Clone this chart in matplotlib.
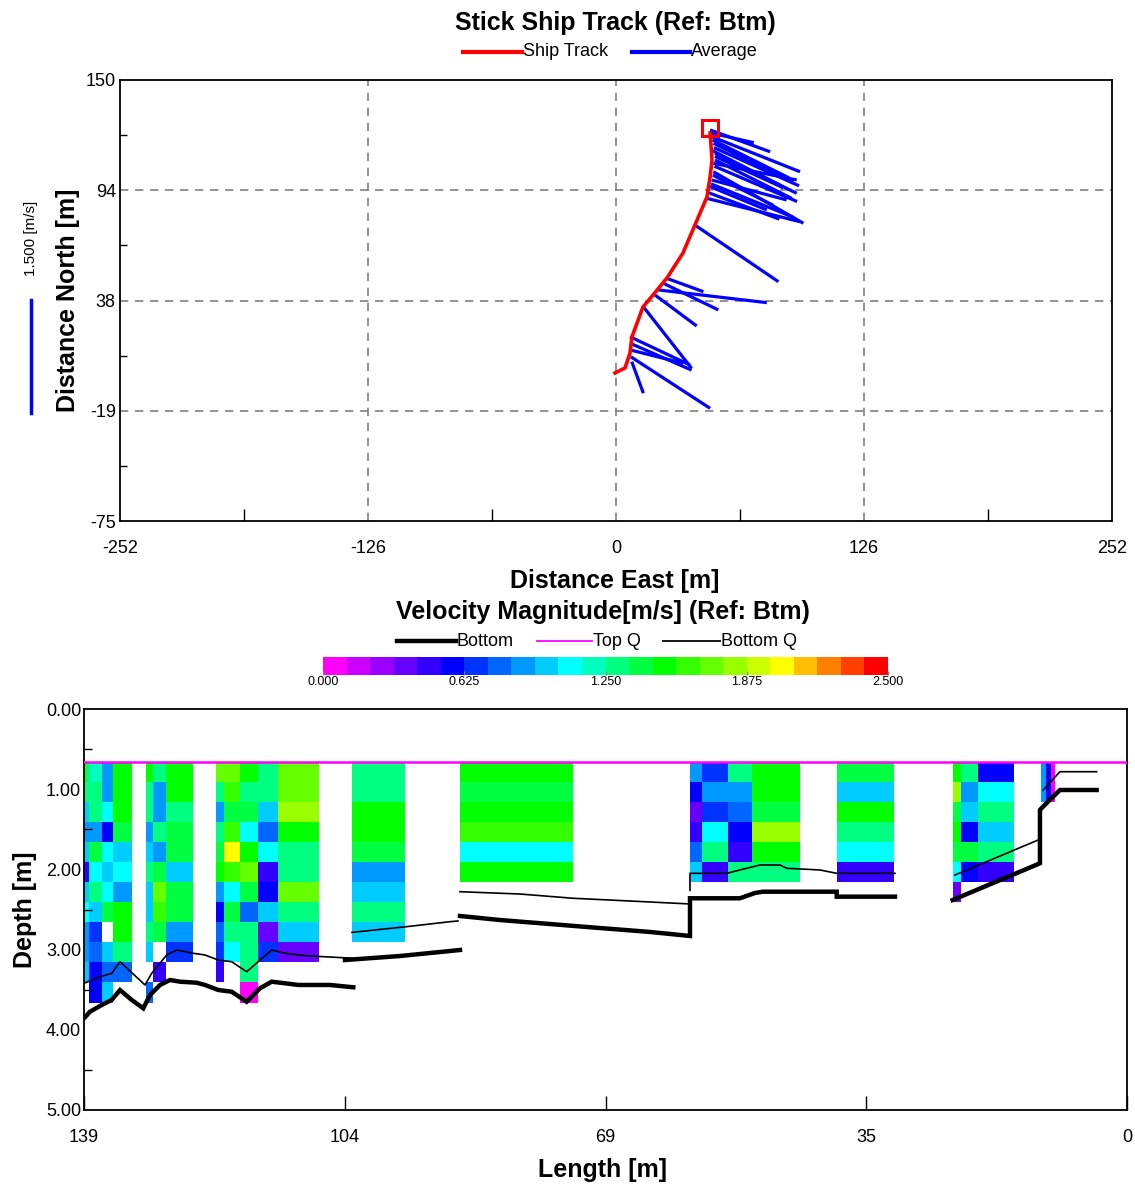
import numpy as np
import matplotlib
matplotlib.use("Agg")
import matplotlib.pyplot as plt
from matplotlib.colors import LinearSegmentedColormap, Normalize
from matplotlib.cm import ScalarMappable
from matplotlib.lines import Line2D
from matplotlib.ticker import MultipleLocator, FixedLocator

plt.rcParams.update({
    "font.family": ["Liberation Sans", "DejaVu Sans"],
    "font.size": 13,
    "axes.linewidth": 1.3,
})

W, H = 1135, 1189
nan = np.nan

# ------------------------------------------------------------------
# top panel: ship track and velocity sticks (metres)
# ------------------------------------------------------------------
track_east = [-0.5, 4.6, 7.1, 8.1, 13.7, 18.8, 25.9, 34.0, 40.1, 46.2, 47.8, 48.8, 47.8]
track_north = [0.5, 3.1, 10.7, 18.9, 34.2, 40.3, 49.0, 61.7, 76.0, 90.3, 100.5, 109.2, 123.0]
end_east, end_north = 47.8, 125.5

stick_e0 = [47.8, 48.6, 49.5, 50.3, 50.3, 49.5, 48.6, 47.8, 46.2, 49.5, 49.0,
            48.2, 49.0, 49.8, 50.3, 50.0, 49.2, 48.3, 47.0,
            40.1, 25.8, 24.0, 21.5, 19.8,
            13.9, 7.1, 7.1, 7.5, 8.0, 7.1]
stick_n0 = [124.5, 121.1, 117.7, 112.6, 109.2, 103.2, 99.0, 95.6, 89.6, 107.5, 114.0,
            123.0, 119.5, 115.5, 111.0, 106.0, 101.5, 97.0, 92.5,
            76.0, 48.8, 46.3, 42.9, 40.3,
            34.3, 19.0, 15.7, 8.8, 6.3, 12.3]
stick_e1 = [78.3, 93.5, 90.1, 91.8, 89.3, 95.2, 86.7, 76.6, 93.5, 91.8, 84.0,
            70.0, 88.0, 93.0, 85.0, 92.0, 80.0, 90.0, 83.0,
            82.5, 44.4, 52.0, 76.6, 41.0,
            38.4, 37.6, 38.4, 47.8, 13.9, 34.2]
stick_n1 = [113.4, 103.2, 98.1, 92.2, 89.6, 76.9, 88.8, 83.7, 77.7, 99.0, 96.0,
            118.0, 100.0, 96.0, 95.0, 88.0, 86.0, 80.0, 79.0,
            47.1, 42.0, 32.7, 36.4, 24.5,
            2.9, 4.6, 2.0, -17.5, -9.8, 5.5]

# ------------------------------------------------------------------
# bottom panel: velocity magnitude per ensemble (m/s), 0.25 m bins
# ------------------------------------------------------------------
bin_top = 0.66
bin_size = 0.25
ens_start = [139.0, 138.29, 136.64, 135.10, 130.78, 129.77, 128.07, 121.45, 120.34,
             118.21, 115.85, 113.11, 103.33, 88.89, 58.24, 56.68, 53.14, 50.02,
             38.69, 23.24, 22.13, 19.83, 11.47, 10.84, 10.13]
ens_end = [138.29, 136.64, 135.10, 132.64, 129.77, 128.07, 124.43, 120.34, 118.21,
           115.85, 113.11, 107.64, 96.22, 73.79, 56.68, 53.14, 50.02, 43.58,
           31.06, 22.13, 19.83, 15.03, 10.84, 10.13, 9.60]
profiles = [
    [1.41, 1.25, 1.0, 0.85, 1.0, 0.5, 1.0, 1.1, 0.9, 0.85, 1.0],
    [1.15, 1.25, 1.25, 0.85, 1.45, 1.1, 1.25, 0.95, 0.65, 0.8, 0.62, 0.62],
    [0.85, 0.85, 1.1, 0.57, 1.1, 1.0, 1.1, 1.4, nan, 1.0, 0.8, 0.95],
    [1.55, 1.55, 1.55, 1.4, 1.0, 1.1, 0.9, 1.5, 1.5, 1.3, 0.75],
    [1.5, 1.25, 1.3, 0.85, 1.0, 1.3, 1.0, 1.0, 1.25, 1.0, nan, 0.78],
    [1.25, 0.9, 0.85, 1.3, 0.9, 1.4, 1.7, 1.6, 1.45, nan, 0.45],
    [1.55, 1.55, 1.25, 1.4, 1.4, 1.0, 1.4, 1.45, 0.85, 0.65],
    [1.7, 1.3, 0.9, 1.3, 1.45, 1.55, 0.85, 0.6, 0.8, 0.68, 0.45],
    [1.7, 1.6, 1.4, 1.6, 2.0, 1.6, 1.1, 1.4, 1.3, 1.1],
    [1.55, 1.25, 1.45, 1.1, 1.55, 1.7, 1.4, 0.8, 1.25, 1.25, 1.3, 0.05],
    [1.25, 1.25, 1.0, 0.8, 1.1, 0.45, 0.57, 0.95, 0.4, 0.65],
    [1.7, 1.7, 1.82, 1.55, 1.3, 1.25, 1.7, 1.25, 1.0, 0.4],
    [1.25, 1.25, 1.55, 1.55, 1.45, 0.9, 1.0, 1.35, 1.0],
    [1.55, 1.45, 1.55, 1.6, 1.05, 1.55],
    [0.9, 0.57, 0.4, 0.5, 0.8, 1.0],
    [0.68, 0.9, 0.65, 1.1, 1.25, 0.47],
    [1.35, 0.9, 0.8, 0.57, 0.47, 1.25],
    [1.55, 1.55, 1.4, 1.82, 1.55, 1.3],
    [1.45, 1.0, 1.55, 1.25, 1.1, 0.5],
    [1.55, 1.8, 1.45, 1.55, 1.45, 1.1, 0.4],
    [1.25, 0.85, 0.95, 0.6, 1.4, 0.57],
    [0.62, 1.1, 1.3, 0.95, 1.25, 0.45],
    [0.9, 0.9],
    [0.6, 0.6],
    [0.1, 0.1],
]

btm_len = [139.0, 138.20, 136.64, 135.31, 134.20, 132.64, 131.10, 130.20, 128.87, 127.54,
           126.21, 123.98, 122.88, 121.10, 119.32, 117.32, 115.55, 113.99, 112.21, 110.44,
           106.22, 103.11, nan, 104.22, 96.89, 88.89, nan, 88.89, 83.56, 76.90, 70.24,
           63.57, 58.24, 58.24, 51.58, 49.58, 48.51, 38.69, 38.69, 30.92, nan, 23.24,
           11.60, 11.60, 11.20, 8.94, 4.05]
btm_dep = [3.857, 3.774, 3.691, 3.628, 3.504, 3.628, 3.732, 3.566, 3.441, 3.379,
           3.400, 3.413, 3.441, 3.504, 3.525, 3.650, 3.483, 3.400, 3.420, 3.441,
           3.441, 3.470, nan, 3.130, 3.080, 3.005, nan, 2.581, 2.631, 2.681, 2.731,
           2.780, 2.830, 2.360, 2.360, 2.294, 2.278, 2.278, 2.340, 2.340, nan, 2.382,
           1.924, 1.259, 1.218, 1.010, 1.010]

btmq_len = [139.0, 136.87, 135.31, 134.20, 130.87, 129.98, 127.98, 126.65, 124.43, 122.88,
            121.10, 119.32, 117.32, 113.99, 112.21, 109.55, 103.15, nan, 103.29, 96.0,
            90.23, 89.16, nan, 88.89, 80.9, 73.8, 66.24, 58.24, nan, 58.24, 58.24, 53.35,
            50.69, 48.91, 46.25, 45.36, 40.92, 38.69, 30.92, nan, 22.93, 11.83, nan,
            11.16, 8.94, 4.05]
btmq_dep = [3.420, 3.338, 3.296, 3.151, 3.441, 3.296, 3.067, 3.005, 3.046, 3.067,
            3.130, 3.151, 3.276, 3.005, 3.046, 3.076, 3.108, nan, 2.785, 2.714,
            2.652, 2.643, nan, 2.278, 2.307, 2.360, 2.394, 2.431, nan, 2.260, 2.049, 2.049,
            1.986, 1.945, 1.945, 1.986, 2.007, 2.049, 2.049, nan, 2.070, 1.633, nan,
            1.010, 0.782, 0.782]

top_q = 0.66
length_max = 139.0


def fx(px):
    return px / W


def fy(py):
    return 1 - py / H


# WinRiver-like stepped colour scale
cmap = LinearSegmentedColormap.from_list(
    "winriver",
    [(0.0, "#ff00ff"), (5 / 23, "#0000ff"), (10 / 23, "#00ffff"),
     (14 / 23, "#00ff00"), (19 / 23, "#ffff00"), (1.0, "#ff0000")], N=24)
norm = Normalize(0, 2.5)

fig = plt.figure(figsize=(W / 100, H / 100), dpi=100)

# ---------------------------------------------------------------
# Stick ship track
# ---------------------------------------------------------------
ax1 = fig.add_axes([fx(120), fy(521), fx(1112) - fx(120), fy(80) - fy(521)])
ax1.set_xlim(-252, 252)
ax1.set_ylim(-75, 150)
for x in (-126, 0, 126):
    ax1.axvline(x, color="#808080", lw=1.2, ls=(0, (5, 4)), zorder=0)
for y in (-18.75, 37.5, 93.75):
    ax1.axhline(y, color="#808080", lw=1.2, ls=(0, (5, 4)), zorder=0)
for e0, n0, e1, n1 in zip(stick_e0, stick_n0, stick_e1, stick_n1):
    ax1.plot([e0, e1], [n0, n1], color="#0000ff", lw=2.3, solid_capstyle="butt", zorder=2)
ax1.plot(track_east, track_north, color="#ff0000", lw=2.6, zorder=3)
ax1.plot([end_east], [end_north], marker="s", ms=11, mfc="none", mec="#ff0000", mew=2.2, zorder=4)

ax1.set_xticks([-252, -126, 0, 126, 252])
ax1.set_xticklabels(["-252", "-126", "0", "126", "252"])
ax1.set_yticks([-75, -18.75, 37.5, 93.75, 150])
ax1.set_yticklabels(["-75", "-19", "38", "94", "150"])
ax1.xaxis.set_minor_locator(FixedLocator([-189, -63, 63, 189]))
ax1.yaxis.set_minor_locator(FixedLocator([-46.875, 9.375, 65.625, 121.875]))
ax1.tick_params(which="both", direction="in", top=False, right=False)
ax1.tick_params(axis="x", which="major", length=0, pad=14, labelsize=13)
ax1.tick_params(axis="x", which="minor", length=9, width=1)
ax1.tick_params(axis="y", which="major", length=0, pad=3, labelsize=13)
ax1.tick_params(axis="y", which="minor", length=5, width=1)

fig.text(fx(615), fy(23), "Stick Ship Track (Ref: Btm)", ha="center", va="center",
         fontsize=18, fontweight="bold")
fig.text(fx(615), fy(581), "Distance East [m]", ha="center", va="center",
         fontsize=18, fontweight="bold")
fig.text(fx(68), fy(300), "Distance North [m]", ha="center", va="center",
         rotation=90, fontsize=18, fontweight="bold")

# legend row
fig.add_artist(Line2D([fx(463), fx(522)], [fy(52), fy(52)], color="#ff0000", lw=3))
fig.text(fx(523), fy(52), "Ship Track", ha="left", va="center", fontsize=13)
fig.add_artist(Line2D([fx(632), fx(690)], [fy(52), fy(52)], color="#0000ff", lw=3))
fig.text(fx(691), fy(52), "Average", ha="left", va="center", fontsize=13)

# velocity scale bar
fig.add_artist(Line2D([fx(31), fx(31)], [fy(300), fy(413)], color="#0000ff", lw=2.5))
fig.text(fx(31), fy(238), "1.500 [m/s]", ha="center", va="center", rotation=90, fontsize=11)

# ---------------------------------------------------------------
# Velocity magnitude contour
# ---------------------------------------------------------------
ax2 = fig.add_axes([fx(84), fy(1110), fx(1127) - fx(84), fy(709) - fy(1110)])
for s, e, prof in zip(ens_start, ens_end, profiles):
    vals = np.ma.masked_invalid(np.array(prof, dtype=float))
    edges = bin_top + bin_size * np.arange(len(prof) + 1)
    ax2.pcolormesh([s, e], edges, vals[:, None], cmap=cmap, norm=norm,
                   shading="flat", edgecolors="none", zorder=1)

ax2.plot([length_max, 0], [top_q, top_q], color="#ff00ff", lw=1.8, zorder=3)
ax2.plot(btmq_len, btmq_dep, color="black", lw=1.2, zorder=4)
ax2.plot(btm_len, btm_dep, color="black", lw=3.2, solid_joinstyle="miter", zorder=5)

ax2.set_xlim(length_max, 0)
ax2.set_ylim(5, 0)
ax2.set_xticks([139, 104.25, 69.5, 34.75, 0])
ax2.set_xticklabels(["139", "104", "69", "35", "0"])
ax2.set_yticks([0, 1, 2, 3, 4, 5])
ax2.set_yticklabels(["0.00", "1.00", "2.00", "3.00", "4.00", "5.00"])
ax2.yaxis.set_minor_locator(MultipleLocator(0.5))
ax2.tick_params(which="both", direction="in", top=False, right=False)
ax2.tick_params(axis="x", which="major", length=10, width=1, pad=14, labelsize=13)
ax2.tick_params(axis="y", which="major", length=0, pad=2, labelsize=13)
ax2.tick_params(axis="y", which="minor", length=6, width=1)

fig.text(fx(603), fy(612), "Velocity Magnitude[m/s] (Ref: Btm)", ha="center", va="center",
         fontsize=18, fontweight="bold")
fig.text(fx(603), fy(1170), "Length [m]", ha="center", va="center",
         fontsize=18, fontweight="bold")
fig.text(fx(25), fy(910), "Depth [m]", ha="center", va="center",
         rotation=90, fontsize=18, fontweight="bold")

fig.add_artist(Line2D([fx(397), fx(456)], [fy(641), fy(641)], color="black", lw=3.2))
fig.text(fx(457), fy(641), "Bottom", ha="left", va="center", fontsize=13)
fig.add_artist(Line2D([fx(537), fx(592)], [fy(641), fy(641)], color="#ff00ff", lw=1.3))
fig.text(fx(593), fy(641), "Top Q", ha="left", va="center", fontsize=13)
fig.add_artist(Line2D([fx(663), fx(720)], [fy(641), fy(641)], color="black", lw=1.3))
fig.text(fx(721), fy(641), "Bottom Q", ha="left", va="center", fontsize=13)

cax = fig.add_axes([fx(323), fy(675), fx(888) - fx(323), fy(657) - fy(675)])
cb = fig.colorbar(ScalarMappable(norm=norm, cmap=cmap), cax=cax, orientation="horizontal",
                  ticks=[0, 0.625, 1.25, 1.875, 2.5])
cb.ax.set_xticklabels(["0.000", "0.625", "1.250", "1.875", "2.500"])
cb.outline.set_visible(False)
cb.ax.tick_params(length=3, width=0.8, color="#808080", direction="in", pad=1, labelsize=9)

fig.savefig("out.png", dpi=100)
